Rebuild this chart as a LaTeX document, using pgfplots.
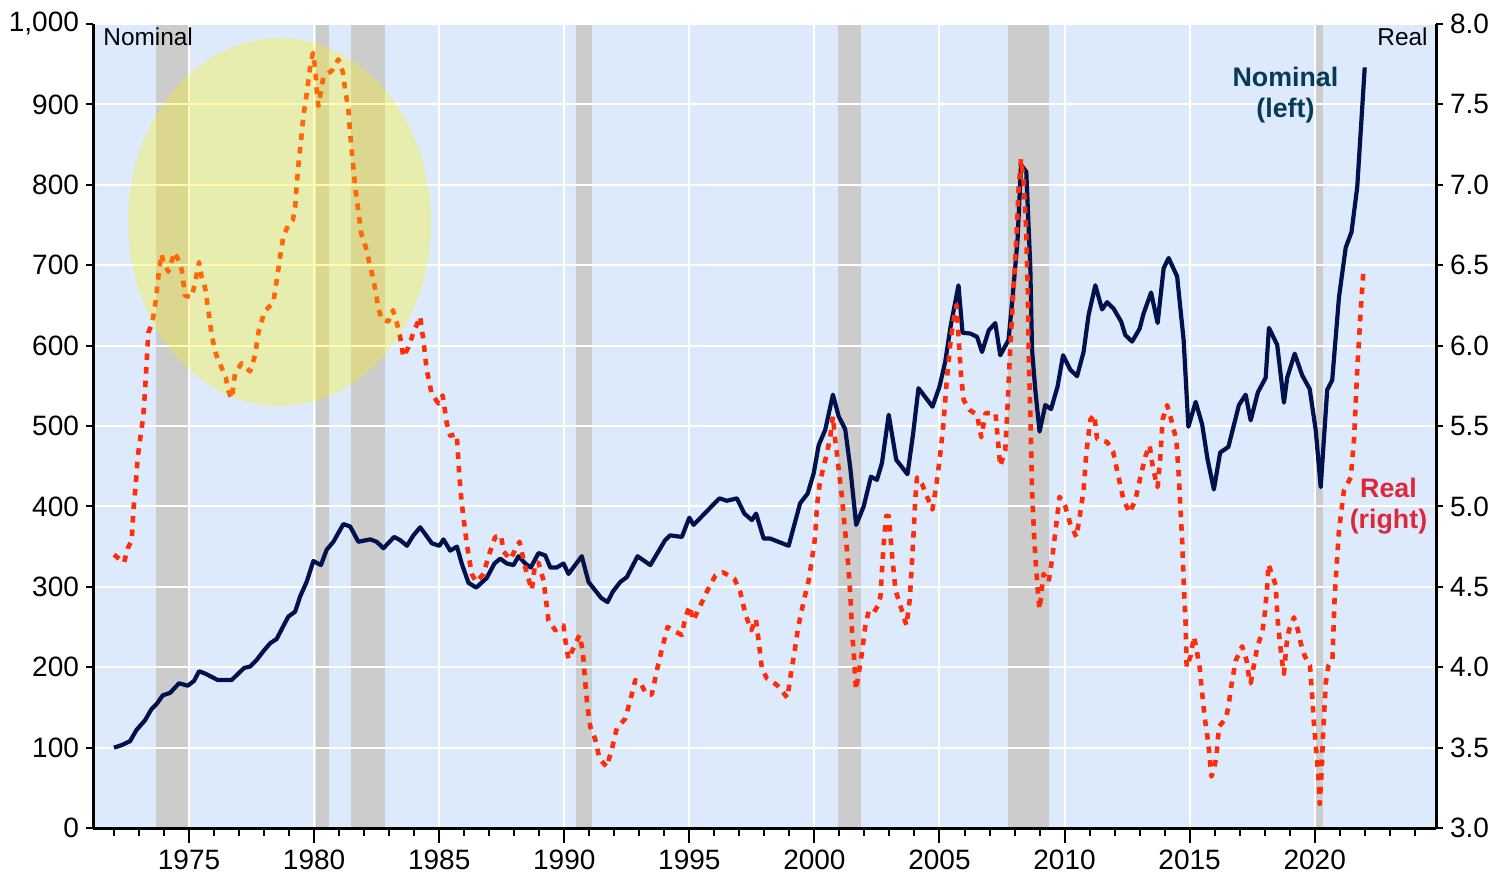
\documentclass[border=0pt]{standalone}
\usepackage{fontspec}
\setmainfont{Liberation Sans}
\usepackage{pgfplots}
\pgfplotsset{compat=1.18}
\definecolor{bgblue}{RGB}{221,234,251}
\definecolor{recgray}{RGB}{204,204,204}
\definecolor{navy}{RGB}{0,18,78}
\definecolor{realred}{RGB}{255,45,10}
\definecolor{nomtext}{RGB}{5,58,88}
\definecolor{realtext}{RGB}{222,40,58}
\pgfplotsset{
  base/.style={
    scale only axis, width=671.5bp, height=402bp,
    xmin=1971.16, xmax=2024.85,
    set layers,
    tick label style={font=\fontsize{14bp}{16bp}\selectfont},
    /pgf/number format/assume math mode=true,
    axis line style={line width=1.5bp, black},
    tick style={line width=1bp, black},
    tick align=outside,
  }
}
\begin{document}
\begin{tikzpicture}
% ---------- axis 1: nominal (left) ----------
\begin{axis}[base,
  ymin=0, ymax=1000,
  axis y line*=left, axis x line*=bottom,
  ytick={0,100,200,300,400,500,600,700,800,900,1000},
  xtick={1975,1980,1985,1990,1995,2000,2005,2010,2015,2020},
  xticklabels={}, xtick style={draw=none},
  major tick length=3.5bp,
  grid=major, major grid style={white, line width=1bp},
  yticklabel style={/pgf/number format/1000 sep={,}},
]
\addplot[fill=bgblue, draw=none, on layer=axis background] coordinates {(1971.16,0) (1971.16,1000) (2024.85,1000) (2024.85,0)};
\addplot[fill=recgray, draw=none, on layer=axis background] coordinates {(1973.67,0) (1973.67,1000) (1974.95,1000) (1974.95,0)};
\addplot[fill=recgray, draw=none, on layer=axis background] coordinates {(1980.08,0) (1980.08,1000) (1980.61,1000) (1980.61,0)};
\addplot[fill=recgray, draw=none, on layer=axis background] coordinates {(1981.47,0) (1981.47,1000) (1982.84,1000) (1982.84,0)};
\addplot[fill=recgray, draw=none, on layer=axis background] coordinates {(1990.46,0) (1990.46,1000) (1991.1,1000) (1991.1,0)};
\addplot[fill=recgray, draw=none, on layer=axis background] coordinates {(2000.94,0) (2000.94,1000) (2001.86,1000) (2001.86,0)};
\addplot[fill=recgray, draw=none, on layer=axis background] coordinates {(2007.72,0) (2007.72,1000) (2009.36,1000) (2009.36,0)};
\addplot[fill=recgray, draw=none, on layer=axis background] coordinates {(2020.04,0) (2020.04,1000) (2020.33,1000) (2020.33,0)};
\addplot[navy, line width=2.1bp, line join=round, mark=none] coordinates {
(1972.0,100) (1972.3,103) (1972.64,108) (1972.9,122) (1973.24,134) (1973.5,148) (1973.7,154) (1973.95,165)
(1974.24,168) (1974.6,180) (1974.95,177) (1975.2,183) (1975.4,195) (1975.65,192) (1976.15,184) (1976.7,184)
(1977.2,199) (1977.45,201) (1977.7,209) (1978.0,221) (1978.25,230) (1978.5,235) (1978.75,250) (1978.97,263)
(1979.24,269) (1979.44,288) (1979.7,306) (1979.97,332) (1980.27,327) (1980.5,346) (1980.77,356) (1981.17,378)
(1981.44,375) (1981.77,356) (1982.24,359) (1982.5,356) (1982.77,348) (1983.2,362) (1983.44,358) (1983.71,351)
(1983.97,364) (1984.24,374) (1984.71,354) (1985.01,351) (1985.17,359) (1985.44,345) (1985.71,350) (1985.9,329)
(1986.17,305) (1986.48,299) (1986.9,311) (1987.21,329) (1987.44,335) (1987.7,329) (1987.97,327) (1988.17,338)
(1988.44,329) (1988.66,324) (1988.97,342) (1989.24,339) (1989.44,324) (1989.7,324) (1989.97,329) (1990.17,316)
(1990.7,338) (1990.97,306) (1991.48,286) (1991.73,281) (1991.94,294) (1992.24,306) (1992.5,312) (1992.93,338)
(1993.44,327) (1994.03,358) (1994.23,364) (1994.7,362) (1995.0,386) (1995.17,377) (1996.2,410) (1996.5,407)
(1996.9,410) (1997.2,391) (1997.5,383) (1997.67,391) (1997.97,360) (1998.23,360) (1998.97,351) (1999.43,404)
(1999.73,416) (1999.97,441) (2000.17,476) (2000.43,495) (2000.74,539) (2000.97,512) (2001.23,496) (2001.43,449)
(2001.67,377) (2001.97,400) (2002.26,437) (2002.5,433) (2002.7,454) (2002.97,514) (2003.27,458) (2003.72,440)
(2003.94,489) (2004.16,547) (2004.43,536) (2004.72,524) (2005.0,549) (2005.23,580) (2005.45,625) (2005.76,675)
(2005.92,616) (2006.23,615) (2006.5,611) (2006.7,592) (2006.97,619) (2007.23,628) (2007.43,588) (2007.76,607)
(2007.96,673) (2008.12,731) (2008.26,825) (2008.47,816) (2008.63,698) (2008.7,595) (2008.83,545) (2009.0,493)
(2009.23,526) (2009.46,521) (2009.72,549) (2009.94,588) (2010.23,570) (2010.5,562) (2010.76,592) (2010.96,638)
(2011.23,675) (2011.5,645) (2011.7,654) (2011.96,646) (2012.26,630) (2012.43,613) (2012.7,605) (2013.0,621)
(2013.16,640) (2013.46,666) (2013.72,628) (2013.96,696) (2014.16,709) (2014.5,686) (2014.76,607) (2014.95,499)
(2015.24,530) (2015.5,502) (2015.72,458) (2015.97,421) (2016.22,467) (2016.55,474) (2016.97,526) (2017.24,539)
(2017.44,507) (2017.73,542) (2018.04,560) (2018.17,622) (2018.5,601) (2018.77,529) (2018.9,560) (2019.2,590)
(2019.5,563) (2019.8,546) (2020.04,495) (2020.24,424) (2020.5,545) (2020.7,557) (2020.97,660) (2021.24,722)
(2021.47,741) (2021.7,797) (2022.0,946)
};
\node[anchor=north west, inner sep=0, xshift=5bp, yshift=-1.5bp, font=\fontsize{12.2bp}{14bp}\selectfont] at (rel axis cs:0,1) {Nominal};
\node[align=center, inner sep=0, text=nomtext, font=\bfseries\fontsize{13.4bp}{15.5bp}\selectfont] at (axis cs:2018.83,911) {Nominal\\(left)};
\node[align=center, inner sep=0, text=realtext, font=\bfseries\fontsize{13.4bp}{15.5bp}\selectfont] at (axis cs:2022.95,400) {Real\\(right)};
\end{axis}
% ---------- axis 2: real (right) ----------
\begin{axis}[base,
  ymin=3, ymax=8,
  axis y line*=right, axis x line=none,
  ytick={3,3.5,4,4.5,5,5.5,6,6.5,7,7.5,8},
  major tick length=3.5bp,
  yticklabel style={/pgf/number format/.cd, fixed, fixed zerofill, precision=1},
]
\addplot[realred, line width=2.3bp, line join=round, dash pattern=on 3.3bp off 3.5bp, mark=none] coordinates {
(1972.0,4.70) (1972.4,4.65) (1972.55,4.74) (1972.71,4.79) (1972.77,4.97) (1972.87,5.14) (1972.95,5.31) (1973.1,5.48)
(1973.17,5.56) (1973.24,5.72) (1973.31,5.91) (1973.37,6.08) (1973.53,6.14) (1973.67,6.28) (1973.8,6.47) (1973.9,6.57)
(1973.97,6.52) (1974.17,6.46) (1974.28,6.51) (1974.41,6.58) (1974.55,6.54) (1974.71,6.47) (1974.84,6.31) (1975.1,6.30)
(1975.24,6.39) (1975.4,6.52) (1975.5,6.43) (1975.64,6.36) (1975.77,6.22) (1975.91,6.06) (1976.07,5.95) (1976.31,5.86)
(1976.47,5.80) (1976.57,5.72) (1976.71,5.67) (1976.84,5.83) (1977.1,5.89) (1977.44,5.84) (1977.64,5.94) (1977.77,6.08)
(1978.01,6.21) (1978.37,6.27) (1978.5,6.40) (1978.64,6.55) (1978.77,6.68) (1978.97,6.75) (1979.15,6.78) (1979.24,6.86)
(1979.31,7.01) (1979.4,7.17) (1979.48,7.28) (1979.57,7.43) (1979.67,7.53) (1979.73,7.60) (1979.84,7.73) (1979.95,7.82)
(1980.04,7.73) (1980.11,7.57) (1980.17,7.49) (1980.27,7.58) (1980.37,7.67) (1980.71,7.71) (1980.97,7.78) (1981.15,7.70)
(1981.24,7.59) (1981.37,7.47) (1981.44,7.32) (1981.53,7.17) (1981.64,6.99) (1981.75,6.86) (1981.88,6.70) (1982.07,6.61)
(1982.2,6.52) (1982.37,6.41) (1982.5,6.30) (1982.57,6.23) (1982.71,6.16) (1982.97,6.15) (1983.15,6.22) (1983.31,6.14)
(1983.44,6.05) (1983.57,5.93) (1983.77,5.99) (1983.97,6.08) (1984.24,6.18) (1984.37,6.03) (1984.5,5.85) (1984.7,5.70)
(1984.97,5.64) (1985.14,5.69) (1985.3,5.52) (1985.44,5.44) (1985.7,5.45) (1985.81,5.18) (1985.9,5.02) (1986.1,4.77)
(1986.3,4.58) (1986.48,4.53) (1986.77,4.58) (1986.97,4.69) (1987.24,4.81) (1987.47,4.82) (1987.57,4.72) (1987.84,4.67)
(1988.04,4.73) (1988.21,4.78) (1988.44,4.62) (1988.7,4.48) (1988.84,4.65) (1988.97,4.65) (1989.17,4.54) (1989.3,4.38)
(1989.37,4.29) (1989.64,4.23) (1989.97,4.26) (1990.04,4.17) (1990.17,4.05) (1990.37,4.12) (1990.61,4.20) (1990.74,4.10)
(1990.84,3.90) (1990.93,3.75) (1991.04,3.63) (1991.24,3.55) (1991.41,3.43) (1991.7,3.38) (1991.9,3.49) (1992.1,3.62)
(1992.44,3.68) (1992.68,3.82) (1992.84,3.92) (1993.06,3.90) (1993.28,3.83) (1993.5,3.83) (1993.7,3.98) (1993.9,4.11)
(1994.13,4.25) (1994.34,4.23) (1994.7,4.20) (1994.84,4.31) (1995.01,4.38) (1995.15,4.29) (1995.37,4.36) (1995.7,4.47)
(1996.04,4.57) (1996.35,4.59) (1996.8,4.55) (1997.03,4.47) (1997.26,4.32) (1997.48,4.23) (1997.66,4.30) (1997.82,4.10)
(1997.9,3.99) (1998.1,3.93) (1998.5,3.89) (1998.92,3.81) (1999.06,3.96) (1999.22,4.11) (1999.35,4.25) (1999.6,4.43)
(1999.77,4.54) (1999.9,4.67) (2000.03,4.81) (2000.1,5.00) (2000.21,5.14) (2000.34,5.23) (2000.47,5.31) (2000.63,5.43)
(2000.74,5.56) (2000.84,5.40) (2000.9,5.33) (2000.97,5.23) (2001.1,5.06) (2001.2,4.89) (2001.3,4.73) (2001.39,4.56)
(2001.46,4.38) (2001.5,4.23) (2001.57,4.09) (2001.66,3.86) (2001.77,3.96) (2001.9,4.09) (2002.03,4.25) (2002.17,4.35)
(2002.37,4.34) (2002.53,4.38) (2002.64,4.44) (2002.7,4.60) (2002.77,4.77) (2002.87,4.94) (2002.97,4.94) (2003.11,4.69)
(2003.24,4.48) (2003.44,4.38) (2003.68,4.26) (2003.81,4.42) (2003.9,4.65) (2003.97,4.85) (2004.03,5.04) (2004.1,5.18)
(2004.3,5.14) (2004.5,5.06) (2004.72,4.98) (2004.88,5.14) (2005.02,5.31) (2005.15,5.50) (2005.3,5.80) (2005.45,6.04)
(2005.57,6.16) (2005.68,6.25) (2005.77,6.03) (2005.87,5.80) (2005.97,5.66) (2006.2,5.60) (2006.5,5.57) (2006.67,5.43)
(2006.84,5.58) (2007.24,5.58) (2007.37,5.35) (2007.43,5.25) (2007.63,5.35) (2007.72,5.62) (2007.83,5.99) (2007.96,6.35)
(2008.07,6.66) (2008.16,6.97) (2008.26,7.16) (2008.36,7.03) (2008.46,6.74) (2008.53,6.35) (2008.57,5.93) (2008.64,5.52)
(2008.7,5.10) (2008.79,4.79) (2008.87,4.60) (2008.96,4.42) (2009.0,4.36) (2009.16,4.58) (2009.36,4.53) (2009.5,4.67)
(2009.67,4.89) (2009.8,5.06) (2010.03,5.00) (2010.23,4.89) (2010.47,4.81) (2010.63,4.96) (2010.76,5.10) (2010.87,5.33)
(2011.03,5.54) (2011.19,5.57) (2011.3,5.42) (2011.7,5.40) (2011.94,5.34) (2012.16,5.18) (2012.36,5.04) (2012.6,4.96)
(2012.83,5.04) (2013.03,5.18) (2013.23,5.31) (2013.4,5.38) (2013.54,5.23) (2013.72,5.12) (2013.83,5.31) (2013.92,5.54)
(2014.1,5.63) (2014.3,5.52) (2014.47,5.41) (2014.56,5.21) (2014.63,5.00) (2014.7,4.79) (2014.77,4.50) (2014.84,4.27)
(2014.88,4.00) (2015.04,4.07) (2015.17,4.19) (2015.28,4.11) (2015.4,4.00) (2015.5,3.84) (2015.6,3.69) (2015.71,3.57)
(2015.77,3.49) (2015.87,3.32) (2015.97,3.36) (2016.08,3.46) (2016.17,3.63) (2016.44,3.68) (2016.55,3.75) (2016.64,3.86)
(2016.73,3.94) (2016.84,4.04) (2017.1,4.13) (2017.28,4.04) (2017.37,3.94) (2017.44,3.90) (2017.53,3.98) (2017.71,4.13)
(2017.91,4.22) (2018.01,4.34) (2018.11,4.52) (2018.15,4.64) (2018.31,4.57) (2018.44,4.51) (2018.51,4.31) (2018.61,4.15)
(2018.71,4.02) (2018.77,3.96) (2018.88,4.15) (2018.97,4.23) (2019.17,4.31) (2019.33,4.23) (2019.44,4.15) (2019.6,4.07)
(2019.81,4.01) (2019.9,3.82) (2019.97,3.65) (2020.08,3.44) (2020.15,3.32) (2020.2,3.15) (2020.28,3.36) (2020.33,3.57)
(2020.44,3.90) (2020.55,4.01) (2020.71,4.05) (2020.8,4.45) (2020.97,4.85) (2021.17,5.10) (2021.44,5.18) (2021.57,5.41)
(2021.7,5.85) (2021.84,6.22) (2021.95,6.47)
};
\fill[yellow, opacity=0.3] (axis cs:1978.62,6.769) ellipse [x radius=75.75bp, y radius=92bp];
\node[anchor=north east, inner sep=0, xshift=-4bp, yshift=-1.5bp, font=\fontsize{12.2bp}{14bp}\selectfont] at (rel axis cs:1,1) {Real};
\end{axis}
% ---------- axis 3: x ticks ----------
\begin{axis}[base,
  ymin=0, ymax=1,
  axis x line*=bottom, axis y line=none,
  xtick={1975,1980,1985,1990,1995,2000,2005,2010,2015,2020},
  minor xtick={1972,1973,1974,1976,1977,1978,1979,1981,1982,1983,1984,1986,1987,1988,1989,1991,1992,1993,1994,1996,1997,1998,1999,2001,2002,2003,2004,2006,2007,2008,2009,2011,2012,2013,2014,2016,2017,2018,2019,2021,2022,2023,2024},
  major tick length=7.5bp, minor tick length=4bp,
  xticklabel style={/pgf/number format/1000 sep={}},
]
\addplot[draw=none, mark=none] coordinates {(1980,0.5) (1990,0.5)};
\end{axis}
\pgfresetboundingbox
\path[use as bounding box] (-46.5bp,-25bp) rectangle (706bp,414bp);
\end{tikzpicture}
\end{document}
